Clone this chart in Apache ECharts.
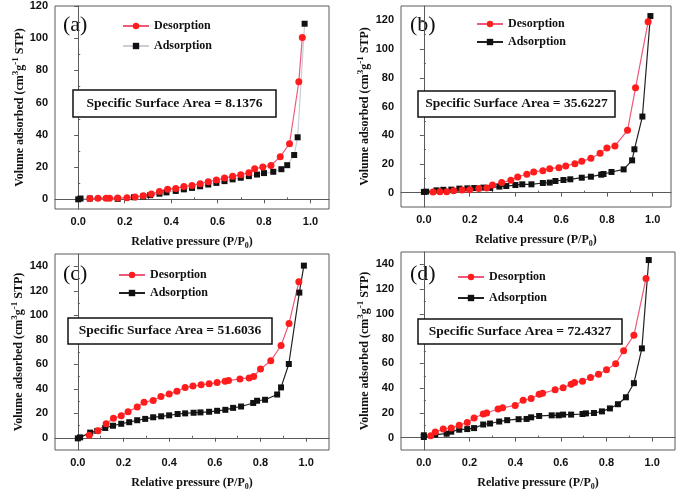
<!DOCTYPE html>
<html>
<head>
<meta charset="utf-8">
<script src="https://cdn.jsdelivr.net/npm/echarts@6/dist/echarts.min.js"></script>
<style>
  html, body { margin: 0; padding: 0; background: #fff; }
  #chart { width: 677px; height: 492px; }
</style>
</head>
<body>
<div id="chart"></div>
<script>
// (a) 8.1376
const aDesX = [0.05, 0.085, 0.12, 0.135, 0.17, 0.21, 0.245, 0.28, 0.315, 0.35, 0.385, 0.42, 0.455, 0.49, 0.525, 0.56, 0.595, 0.63, 0.665, 0.70, 0.735, 0.76, 0.795, 0.83, 0.87, 0.91, 0.95, 0.965];
const aDesY = [0.5, 0.6, 0.7, 0.7, 0.8, 1.0, 1.5, 2.3, 3.3, 4.8, 6.2, 6.8, 7.9, 8.6, 9.7, 10.9, 12, 13.2, 14.3, 15.3, 16.5, 19, 20, 21, 26.5, 34.5, 73, 100.5];
const aAdsX = [0, 0.01, 0.05, 0.17, 0.24, 0.28, 0.31, 0.35, 0.38, 0.42, 0.455, 0.49, 0.525, 0.56, 0.595, 0.63, 0.665, 0.70, 0.735, 0.77, 0.80, 0.84, 0.875, 0.90, 0.93, 0.945, 0.975];
const aAdsY = [0, 0.5, 0.5, 0.3, 1.3, 1.8, 2.6, 3.5, 4.3, 5.2, 6.2, 7.1, 8.1, 9.2, 10.2, 11.3, 12.4, 13.4, 14.4, 15.4, 16.3, 17.1, 18.7, 21.2, 27.5, 38.5, 109];

// (b) 35.6227
const bDesX = [0.04, 0.07, 0.10, 0.13, 0.167, 0.20, 0.24, 0.275, 0.30, 0.34, 0.38, 0.41, 0.45, 0.48, 0.52, 0.55, 0.59, 0.62, 0.66, 0.69, 0.73, 0.77, 0.80, 0.835, 0.89, 0.925, 0.98];
const bDesY = [0.5, 0.7, 0.7, 1.4, 1.9, 2.1, 2.8, 3.2, 5.3, 7, 8.6, 10.9, 12.8, 14.4, 15.3, 16.7, 17.4, 18.6, 20.2, 21.8, 23.9, 27.4, 31.1, 32.5, 43.4, 73, 119];
const bAdsX = [0, 0.01, 0.055, 0.085, 0.12, 0.155, 0.19, 0.22, 0.26, 0.29, 0.33, 0.36, 0.40, 0.43, 0.47, 0.52, 0.55, 0.575, 0.61, 0.64, 0.69, 0.73, 0.775, 0.785, 0.82, 0.873, 0.91, 0.92, 0.955, 0.99];
const bAdsY = [0.5, 0.7, 1.6, 2.0, 2.1, 2.8, 3.0, 3.2, 3.5, 3.3, 4.2, 4.6, 5.3, 5.8, 5.8, 6.7, 7.0, 8.1, 8.8, 9.3, 10.4, 11.1, 12.5, 13.0, 14.4, 16.2, 22.5, 30.2, 53, 123];

// (c) 51.6036
const cDesX = [0.05, 0.088, 0.124, 0.156, 0.19, 0.22, 0.26, 0.29, 0.33, 0.364, 0.40, 0.434, 0.47, 0.504, 0.54, 0.575, 0.61, 0.645, 0.66, 0.71, 0.75, 0.77, 0.80, 0.845, 0.89, 0.925, 0.968];
const cDesY = [2.1, 5.8, 11.4, 15.9, 18.0, 21.2, 25.2, 28.9, 30.5, 33.7, 35.8, 37.9, 41.1, 42.2, 43.2, 44.0, 45.1, 46.1, 46.7, 48.0, 48.8, 50.1, 56.2, 62.8, 75.3, 93.3, 127.3];
const cAdsX = [0, 0.01, 0.054, 0.085, 0.12, 0.154, 0.19, 0.225, 0.26, 0.295, 0.33, 0.365, 0.40, 0.437, 0.47, 0.507, 0.537, 0.575, 0.61, 0.646, 0.68, 0.715, 0.768, 0.785, 0.82, 0.873, 0.89, 0.924, 0.97, 0.99];
const cAdsY = [-0.5, 0.3, 4.2, 5.6, 8.0, 9.8, 11.4, 12.7, 14.3, 15.4, 16.7, 17.5, 18.3, 19.4, 19.9, 20.4, 20.7, 21.2, 22.0, 22.8, 24.4, 25.5, 28.4, 30.2, 31.0, 35.3, 41.1, 60.2, 118.5, 140.5];

// (d) 72.4327
const dDesX = [0.03, 0.05, 0.085, 0.12, 0.155, 0.19, 0.22, 0.26, 0.275, 0.325, 0.345, 0.40, 0.435, 0.47, 0.505, 0.52, 0.575, 0.61, 0.645, 0.66, 0.695, 0.73, 0.765, 0.80, 0.84, 0.875, 0.92, 0.973];
const dDesY = [1.6, 4.5, 6.9, 7.7, 10.1, 12.2, 15.9, 19.1, 19.9, 23.1, 24.1, 26.0, 30.2, 31.6, 35.0, 35.8, 38.7, 40.3, 43.2, 44.6, 45.6, 48.5, 51.2, 54.9, 59.7, 70.3, 82.7, 128.6];
const dAdsX = [0, 0, 0.05, 0.10, 0.12, 0.155, 0.19, 0.22, 0.26, 0.29, 0.33, 0.365, 0.415, 0.45, 0.47, 0.505, 0.56, 0.59, 0.61, 0.645, 0.695, 0.71, 0.745, 0.78, 0.815, 0.85, 0.885, 0.92, 0.955, 0.985];
const dAdsY = [0.5, 1.9, 2.4, 3.2, 4.8, 6.4, 6.9, 7.7, 10.6, 11.4, 13.0, 14.1, 14.9, 15.1, 16.4, 17.5, 18.0, 18.0, 18.6, 18.6, 19.1, 19.6, 19.9, 21.2, 23.6, 27.0, 32.6, 44.0, 72.1, 143.5];

const areas = ['8.1376', '35.6227', '51.6036', '72.4327'];
const panelTags = ['(a)', '(b)', '(c)', '(d)'];
const xMajor = [0, 0.2, 0.4, 0.6, 0.8, 1.0];
const xMinor = [0.1, 0.3, 0.5, 0.7, 0.9];
const yMajor120 = [0, 20, 40, 60, 80, 100, 120];
const yMinor120 = [10, 30, 50, 70, 90, 110];
const yMajor140 = [0, 20, 40, 60, 80, 100, 120, 140];
const yMinor140 = [10, 30, 50, 70, 90, 110, 130];

const zip = (xs, ys) => xs.map((x, i) => [x, ys[i]]);

const SERIF = "'Liberation Serif', 'Times New Roman', serif";
const SANS = "'Liberation Sans', Arial, sans-serif";
const FRAME = '#5a5a5a';

// layout of the four panels (pixels)
const panels = [
  {grid: {left: 55, top: 6, width: 274, height: 203}, xMax: 1.08, yMin: -6, yMax: 120, yMaj: yMajor120, yMin2: yMinor120, yGap: 23,
   des: zip(aDesX, aDesY), ads: zip(aAdsX, aAdsY), adsLine: '#c9ced6',
   legend: {left: 122, top: 20, itemGap: 8}, tag: [63, 27], box: [73, 90, 203, 27]},
  {grid: {left: 401, top: 6, width: 270, height: 201}, xMax: 1.08, yMin: -10, yMax: 130, yMaj: yMajor120, yMin2: yMinor120, yGap: 27,
   des: zip(bDesX, bDesY), ads: zip(bAdsX, bAdsY), adsLine: '#222',
   legend: {left: 476, top: 18, itemGap: 6}, tag: [410, 27], box: [418, 91, 197, 26]},
  {grid: {left: 55, top: 254, width: 274, height: 202}, xMax: 1.1, yMin: -10, yMax: 150, yMaj: yMajor140, yMin2: yMinor140, yGap: 27,
   des: zip(cDesX, cDesY), ads: zip(cAdsX, cAdsY), adsLine: '#222',
   legend: {left: 118, top: 269, itemGap: 6}, tag: [63, 276], box: [68, 318, 204, 26]},
  {grid: {left: 401, top: 252, width: 274, height: 204}, xMax: 1.1, yMin: -10, yMax: 150, yMaj: yMajor140, yMin2: yMinor140, yGap: 27,
   des: zip(dDesX, dDesY), ads: zip(dAdsX, dAdsY), adsLine: '#222',
   legend: {left: 457, top: 271, itemGap: 9}, tag: [410, 276], box: [418, 319, 204, 25]}
];

const grids = [], xAxes = [], yAxes = [], series = [], legends = [], graphics = [];

panels.forEach((p, i) => {
  grids.push(Object.assign({show: true, borderColor: FRAME, borderWidth: 1}, p.grid));

  // main x axis with labels + major ticks
  xAxes.push({
    type: 'value', gridIndex: i, min: -0.1, max: p.xMax,
    name: '{t|Relative pressure (P/P}{s|0}{t|)}', nameLocation: 'middle', nameGap: 25,
    nameTextStyle: {rich: {
      t: {fontFamily: SERIF, fontWeight: 'bold', fontSize: 12, color: '#111', lineHeight: 16},
      s: {fontFamily: SERIF, fontWeight: 'bold', fontSize: 8, color: '#111', verticalAlign: 'bottom', lineHeight: 8}
    }},
    axisLine: {lineStyle: {color: FRAME, width: 1}},
    axisTick: {customValues: xMajor, length: 4, lineStyle: {color: FRAME}},
    axisLabel: {customValues: xMajor, formatter: v => v.toFixed(1), margin: 7,
      fontFamily: SANS, fontWeight: 'bold', fontSize: 11, color: '#111'},
    splitLine: {show: false}
  });
  // minor ticks
  xAxes.push({
    type: 'value', gridIndex: i, min: -0.1, max: p.xMax,
    axisLine: {show: false}, axisLabel: {show: false}, splitLine: {show: false},
    axisTick: {customValues: xMinor, length: 2, lineStyle: {color: FRAME}}
  });

  yAxes.push({
    type: 'value', gridIndex: i, min: p.yMin, max: p.yMax,
    name: '{t|Volume adsorbed (cm}{s|3}{t|g}{s|-1}{t| STP)}', nameLocation: 'middle', nameGap: p.yGap, nameRotate: 90,
    nameTextStyle: {rich: {
      t: {fontFamily: SERIF, fontWeight: 'bold', fontSize: 12, color: '#111', lineHeight: 18},
      s: {fontFamily: SERIF, fontWeight: 'bold', fontSize: 9, color: '#111', verticalAlign: 'top', lineHeight: 9}
    }},
    axisLine: {show: true, lineStyle: {color: FRAME, width: 1}},
    axisTick: {show: true, customValues: p.yMaj, length: 4, lineStyle: {color: FRAME}},
    axisLabel: {customValues: p.yMaj, margin: 7,
      fontFamily: SANS, fontWeight: 'bold', fontSize: 11, color: '#111'},
    splitLine: {show: false}
  });
  yAxes.push({
    type: 'value', gridIndex: i, min: p.yMin, max: p.yMax,
    axisLine: {show: false}, axisLabel: {show: false}, splitLine: {show: false},
    axisTick: {show: true, customValues: p.yMin2, length: 2, lineStyle: {color: FRAME}}
  });

  series.push({
    name: 'Adsorption', type: 'line', xAxisIndex: 2 * i, yAxisIndex: 2 * i,
    data: p.ads, symbol: 'rect', symbolSize: 6,
    itemStyle: {color: '#111'}, lineStyle: {color: p.adsLine, width: 1.2},
    animation: false
  });
  series.push({
    name: 'Desorption', type: 'line', xAxisIndex: 2 * i, yAxisIndex: 2 * i,
    data: p.des, symbol: 'circle', symbolSize: 7,
    itemStyle: {color: '#ff1c1c'}, lineStyle: {color: '#f0587a', width: 1.2},
    animation: false
  });

  legends.push({
    left: p.legend.left, top: p.legend.top, orient: 'vertical', padding: 0,
    itemGap: p.legend.itemGap, itemWidth: 26, itemHeight: 8, selectedMode: false,
    textStyle: {fontFamily: SERIF, fontWeight: 'bold', fontSize: 12, color: '#111'},
    data: [
      {name: 'Desorption'},
      {name: 'Adsorption', lineStyle: {color: p.adsLine}, itemStyle: {color: '#111'}}
    ]
  });

  graphics.push({
    type: 'text', left: p.tag[0], top: p.tag[1] - 13,
    style: {text: panelTags[i], font: '22px ' + SERIF, fill: '#111'}
  });
  const b = p.box;
  graphics.push({
    type: 'rect', shape: {x: b[0], y: b[1], width: b[2], height: b[3]},
    style: {fill: '#fff', stroke: '#111', lineWidth: 1.5}, z: 10
  });
  graphics.push({
    type: 'text', x: b[0] + b[2] / 2, y: b[1] + b[3] / 2, z: 11,
    style: {text: 'Specific Surface Area = ' + areas[i], font: 'bold 13.5px ' + SERIF,
      fill: '#111', textAlign: 'center', textVerticalAlign: 'middle'}
  });
});

const chart = echarts.init(document.getElementById('chart'));
chart.setOption({
  backgroundColor: '#fff',
  animation: false,
  grid: grids,
  xAxis: xAxes,
  yAxis: yAxes,
  legend: legends,
  series: series,
  graphic: graphics
});
</script>
</body>
</html>
